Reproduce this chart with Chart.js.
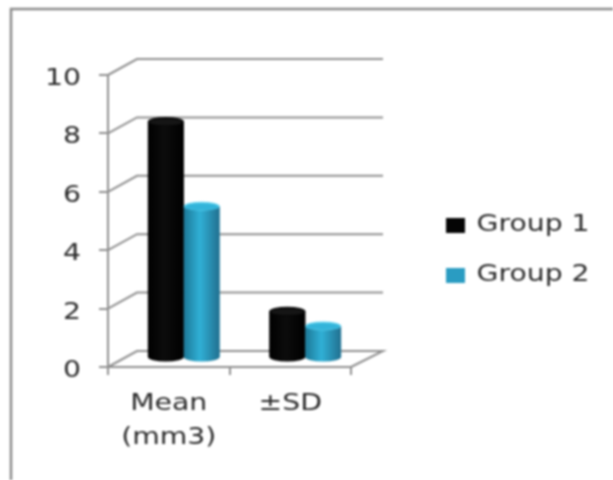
<!DOCTYPE html>
<html>
<head>
<meta charset="utf-8">
<style>
	html, body { margin: 0; padding: 0; background: #fff; }
	#wrap { width: 613px; height: 480px; }
	canvas { display: block; filter: blur(0.8px); }
</style>
<script src="https://cdn.jsdelivr.net/npm/chart.js@4"></script>
</head>
<body>
<div id="wrap"><canvas id="myChart" width="613" height="480"></canvas></div>
<script>
const categories = [['Mean', '(mm3)'], '±SD'];
const group1 = [8.1, 1.6];
const group2 = [5.2, 1.1];
const yTicks = [0, 2, 4, 6, 8, 10];

const gridColor = '#8f8f8f';
const textColor = '#2a2a2a';
const textStretch = 1.23;
// depth of the fake 3d box
const depthX = 29, depthY = -16;
const barShiftX = 15, barShiftY = -9;

const shades = [
	{ stops: ['#000000', '#0c0c0c', '#000000'], cap: '#151515', rim: '#000000' },
	{ stops: ['#1c7897', '#30b0d6', '#216f8f'], cap: '#33b4da', rim: '#63d3ef' }
];

// the reference text is stretched sideways, so stretch every label the same way
const stretchText = {
	id: 'stretchText',
	start(chart) {
		const ctx = chart.ctx;
		const fillText = ctx.fillText.bind(ctx);
		ctx.fillText = function (text, x, y) {
			// y tick labels sit a little under their tick in the reference
			const drop = ctx.textAlign === 'right' ? 4 : 0;
			ctx.save();
			ctx.translate(x, y + drop);
			ctx.scale(textStretch, 1);
			fillText(text, 0, 0);
			ctx.restore();
		};
	}
};

const placeLegend = {
	id: 'placeLegend',
	beforeLayout(chart) {
		const legend = chart.legend;
		if (!legend._patched) {
			const fit = legend.fit.bind(legend);
			legend.fit = function () {
				fit();
				legend.width = 262;
			};
			legend._patched = true;
		}
	},
	afterLayout(chart) {
		const legend = chart.legend;
		const pad = legend.options.labels.padding;
		legend.left = 446 - pad;
		legend.top = 214 - pad;
	}
};

const box3d = {
	id: 'box3d',
	beforeDatasetsDraw(chart) {
		const ctx = chart.ctx;
		const x = chart.scales.x;
		const y = chart.scales.y;
		const left = x.left, right = x.right;

		ctx.save();
		ctx.strokeStyle = gridColor;
		ctx.lineWidth = 2;
		yTicks.forEach(function (v) {
			const py = y.getPixelForValue(v);
			ctx.beginPath();
			ctx.moveTo(left, py);
			ctx.lineTo(left + depthX, py + depthY);
			ctx.lineTo(right + depthX + 3, py + depthY);
			if (v === 0) {
				ctx.lineTo(right, py);
			}
			ctx.stroke();
		});
		ctx.restore();

		// bars stand in the middle of the floor
		ctx.save();
		ctx.translate(barShiftX, barShiftY);
	},
	afterDatasetsDraw(chart) {
		const ctx = chart.ctx;
		chart.data.datasets.forEach(function (ds, i) {
			const shade = shades[i];
			chart.getDatasetMeta(i).data.forEach(function (bar) {
				const half = bar.width / 2;
				const ry = 4.5;
				const grad = ctx.createLinearGradient(bar.x - half, 0, bar.x + half, 0);
				grad.addColorStop(0, shade.stops[0]);
				grad.addColorStop(0.45, shade.stops[1]);
				grad.addColorStop(1, shade.stops[2]);

				ctx.fillStyle = grad;
				ctx.fillRect(bar.x - half, bar.y, bar.width, bar.base - bar.y);
				ctx.beginPath();
				ctx.ellipse(bar.x, bar.base, half, ry, 0, 0, Math.PI);
				ctx.fill();

				ctx.fillStyle = shade.rim;
				ctx.beginPath();
				ctx.ellipse(bar.x, bar.y, half, ry, 0, 0, Math.PI * 2);
				ctx.fill();
				ctx.fillStyle = shade.cap;
				ctx.beginPath();
				ctx.ellipse(bar.x, bar.y + 0.5, half - 1, ry - 1, 0, 0, Math.PI * 2);
				ctx.fill();
			});
		});
		ctx.restore();
	}
};

const frame = {
	id: 'frame',
	beforeDraw(chart) {
		const ctx = chart.ctx;
		ctx.save();
		ctx.strokeStyle = '#8a8a8a';
		ctx.lineWidth = 2.5;
		ctx.beginPath();
		ctx.moveTo(11, 480);
		ctx.lineTo(11, 9);
		ctx.lineTo(613, 9);
		ctx.stroke();
		ctx.restore();
	}
};

new Chart(document.getElementById('myChart'), {
	type: 'bar',
	data: {
		labels: categories,
		datasets: [
			{ label: 'Group 1', data: group1, backgroundColor: '#050505', clip: false },
			{ label: 'Group 2', data: group2, backgroundColor: '#2a9cc2', clip: false }
		]
	},
	plugins: [stretchText, frame, placeLegend, box3d],
	options: {
		responsive: false,
		animation: false,
		layout: { padding: { top: 75, left: 0, right: 0, bottom: 0 } },
		categoryPercentage: 0.59,
		barPercentage: 1,
		plugins: {
			tooltip: { enabled: false },
			legend: {
				position: 'right',
				align: 'start',
				labels: {
					boxWidth: 19,
					boxHeight: 15,
					padding: 27,
					color: textColor,
					font: { family: 'DejaVu Sans', size: 23 }
				}
			}
		},
		scales: {
			x: {
				afterFit(scale) { scale.height = 113; },
				border: { color: gridColor, width: 2 },
				grid: { drawOnChartArea: false, color: gridColor, lineWidth: 2, tickLength: 8 },
				ticks: {
					color: textColor,
					padding: 12,
					maxRotation: 0,
					font: { family: 'DejaVu Sans', size: 23, lineHeight: 1.48 }
				}
			},
			y: {
				min: 0,
				max: 10,
				afterFit(scale) { scale.width = 108; },
				afterBuildTicks(scale) { scale.ticks = yTicks.map(v => ({ value: v })); },
				border: { color: gridColor, width: 2 },
				grid: { drawOnChartArea: false, color: gridColor, lineWidth: 2, tickLength: 9 },
				ticks: {
					color: textColor,
					padding: 18,
					font: { family: 'DejaVu Sans', size: 23 }
				}
			}
		}
	}
});
</script>
</body>
</html>
